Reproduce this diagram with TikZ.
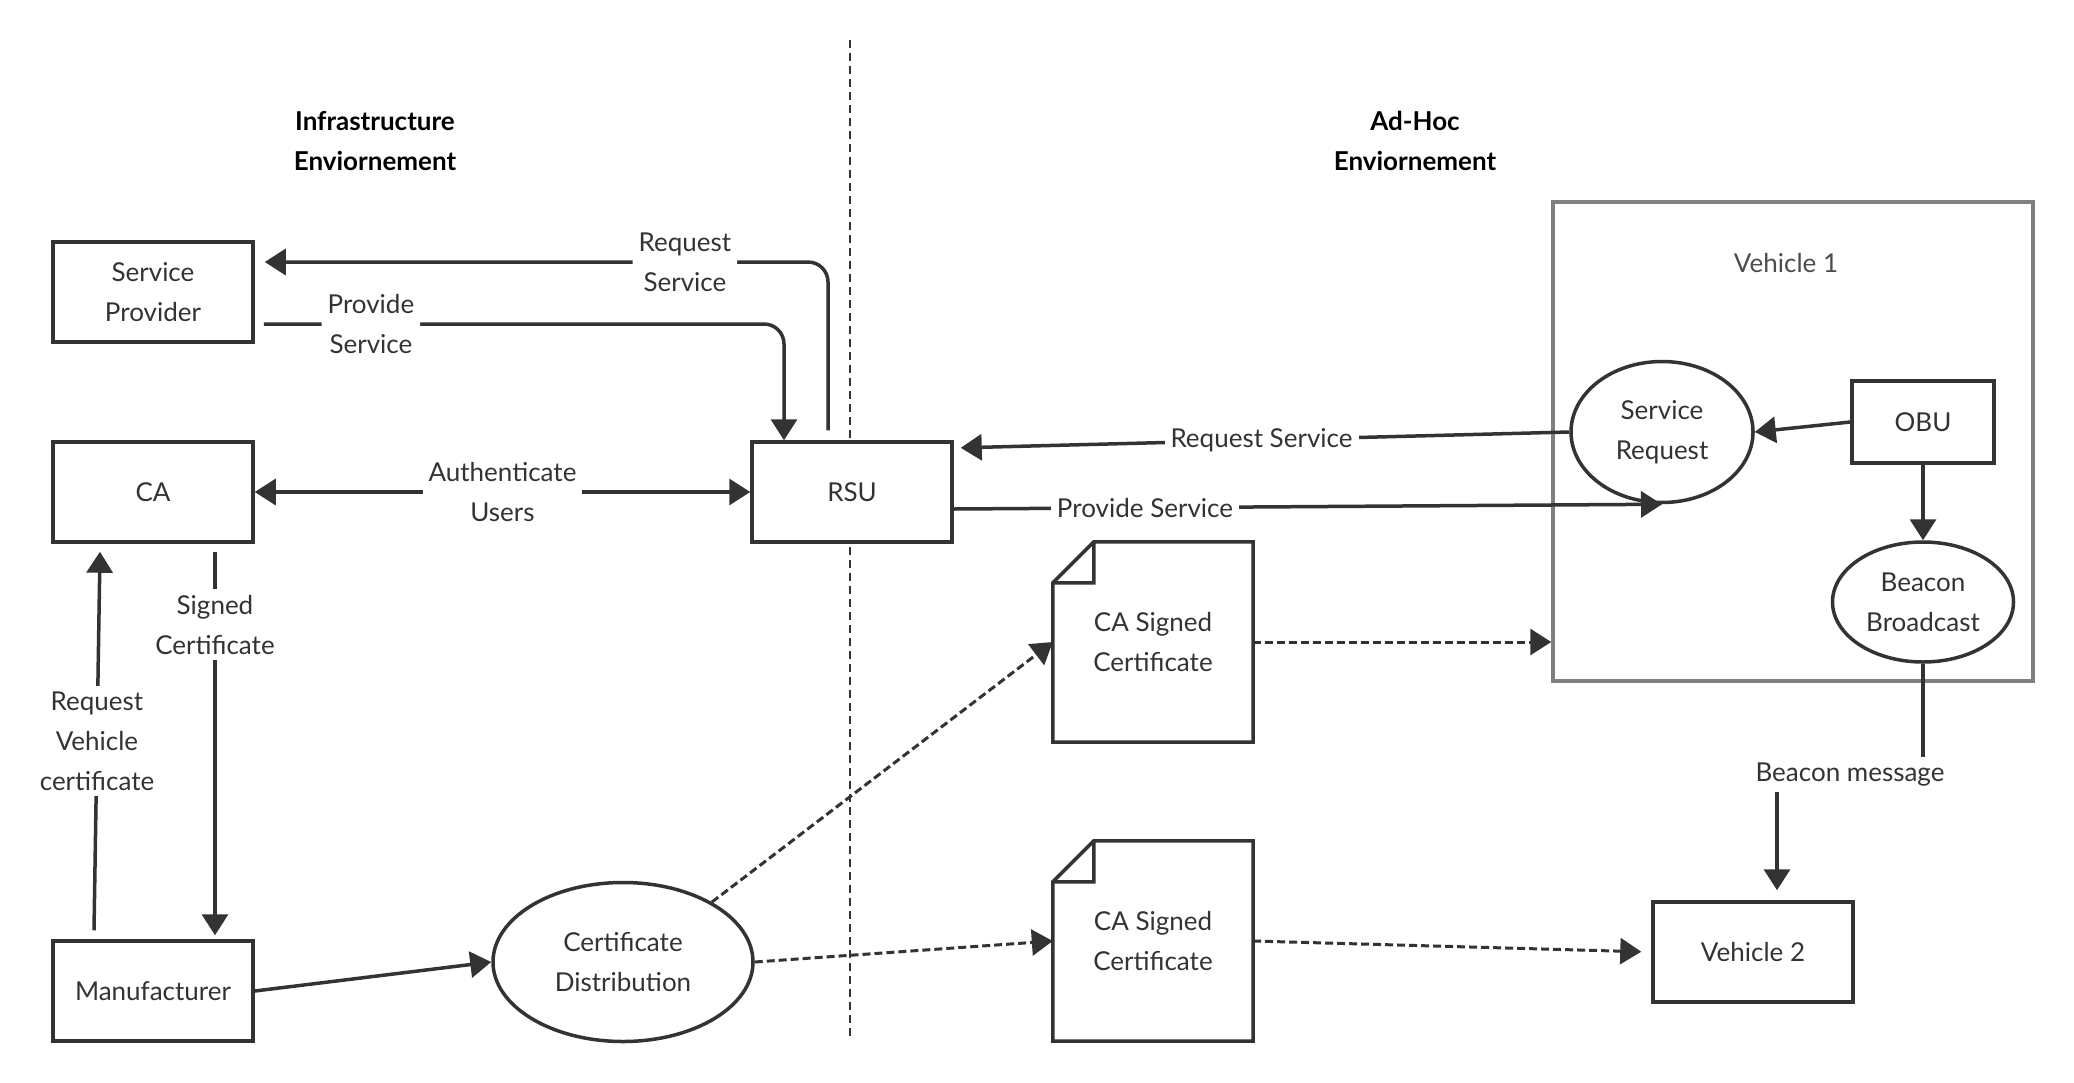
\documentclass[tikz,border=0pt]{standalone}
\usepackage{fontspec}
\setmainfont{Lato}
\usetikzlibrary{arrows.meta,shapes.geometric}

\definecolor{ink}{HTML}{333333}
\definecolor{framegray}{HTML}{808080}

\tikzset{
  box/.style={draw=ink, fill=white, line width=3.5pt, minimum width=200pt, minimum height=100pt, inner sep=0pt, align=center},
  bubble/.style={ellipse, draw=ink, fill=white, line width=3.5pt, inner sep=0pt, align=center},
  certdoc/.style={minimum width=200pt, minimum height=200pt, inner sep=0pt, align=center},
  flow/.style={draw=ink, line width=3.5pt, -{Triangle[length=21pt,width=26pt]}},
  twoway/.style={flow, {Triangle[length=21pt,width=26pt]}-{Triangle[length=21pt,width=26pt]}},
  dflow/.style={flow, line width=3pt, dash pattern=on 8pt off 4pt},
  lbl/.style={fill=white, inner sep=6pt, align=center},
}

\begin{document}
\begin{tikzpicture}[x=1pt, y=-1pt, every node/.style={font=\fontsize{26}{40}\selectfont, text=ink}]
\useasboundingbox (0,0) rectangle (2074,1082);

% border between the two sides
\draw[ink, line width=2.5pt, dash pattern=on 8pt off 5pt] (850,40) -- (850,1038);
\node[font=\fontsize{26}{40}\selectfont\bfseries, text=black, align=center] (infra) at (375,141) {Infrastructure\\Enviornement};
\node[font=\fontsize{26}{40}\selectfont\bfseries, text=black, align=center] (adhoc) at (1415,141) {Ad-Hoc\\Enviornement};

% Infrastructure side
\node[box] (sp) at (153,292) {Service\\Provider};
\node[box] (ca) at (153,492) {CA};
\node[box] (manu) at (153,991) {Manufacturer};
\node[box] (rsu) at (852,492) {RSU};
\node[bubble, minimum width=260pt, minimum height=159pt] (dist) at (623,962) {Certificate\\Distribution};

% certificates
\node[certdoc] (doc1) at (1153,642) {CA Signed\\Certificate};
\node[certdoc] (doc2) at (1153,941) {CA Signed\\Certificate};
\foreach \d in {doc1,doc2}
  \draw[ink, line width=3.5pt] (\d.south west) -- ([yshift=-41pt]\d.north west) -- ([xshift=41pt]\d.north west) -- (\d.north east) -- (\d.south east) -- cycle
    ([yshift=-41pt]\d.north west) -- ([xshift=41pt,yshift=-41pt]\d.north west) -- ([xshift=41pt]\d.north west);

% Ad-Hoc side
\node[draw=framegray, line width=3.5pt, minimum width=480pt, minimum height=479pt, inner sep=0pt] (veh1) at (1793,441.5) {};
\node[text=black!70] (veh1lbl) at (1786,263) {Vehicle 1};
\node[bubble, minimum width=182pt, minimum height=141pt] (sreq) at (1662,432) {Service\\Request};
\node[box, minimum width=142pt, minimum height=82pt] (obu) at (1923,422) {OBU};
\node[bubble, minimum width=181pt, minimum height=120pt] (beacon) at (1923,602) {Beacon\\Broadcast};
\node[box] (veh2) at (1753,952) {Vehicle 2};

% RSU and the provider
\draw[flow, rounded corners=20pt] ([xshift=-24pt,yshift=10pt]rsu.north) |- ([xshift=10pt,yshift=30pt]sp.east) node[lbl, pos=0.627] {Request\\Service};
\draw[flow, rounded corners=20pt] ([xshift=9pt,yshift=-32pt]sp.east) -| ([xshift=-68pt]rsu.north) node[lbl, pos=0.103] {Provide\\Service};
\draw[twoway] (ca.east) -- (rsu.west) node[lbl, midway] {Authenticate\\Users};

% CA and the manufacturer
\draw[flow] ([xshift=-59pt,yshift=9pt]manu.north) -- ([xshift=-53pt,yshift=-8pt]ca.south) node[lbl, midway] {Request\\Vehicle\\certificate};
\draw[flow] ([xshift=62pt,yshift=-8pt]ca.south) -- ([xshift=62pt,yshift=4pt]manu.north) node[lbl, pos=0.19] {Signed\\Certificate};
\draw[flow] (manu.east) -- (dist.west);

% handing out certificates
\draw[dflow] (dist.34) -- (doc1.west);
\draw[dflow] (dist.east) -- (doc2.west);
\draw[dflow] (doc1.east) -- (doc1.east -| veh1.west);
\draw[dflow, shorten >=10pt] (doc2.east) -- (veh2.west);

% vehicles
\draw[flow, shorten >=7pt] (sreq.west) -- ([yshift=44pt]rsu.east) node[lbl, midway] {Request Service};
\draw[flow] ([yshift=-17pt]rsu.east) -- (sreq.south) node[lbl, pos=0.27] {Provide Service};
\draw[flow] (obu.west) -- (sreq.east);
\draw[flow] (obu.south) -- (beacon.north);
\draw[flow] (beacon.south) -- ++(0,111) -| ([xshift=24pt,yshift=10pt]veh2.north) node[lbl, pos=0.25] {Beacon message};
\end{tikzpicture}
\end{document}
